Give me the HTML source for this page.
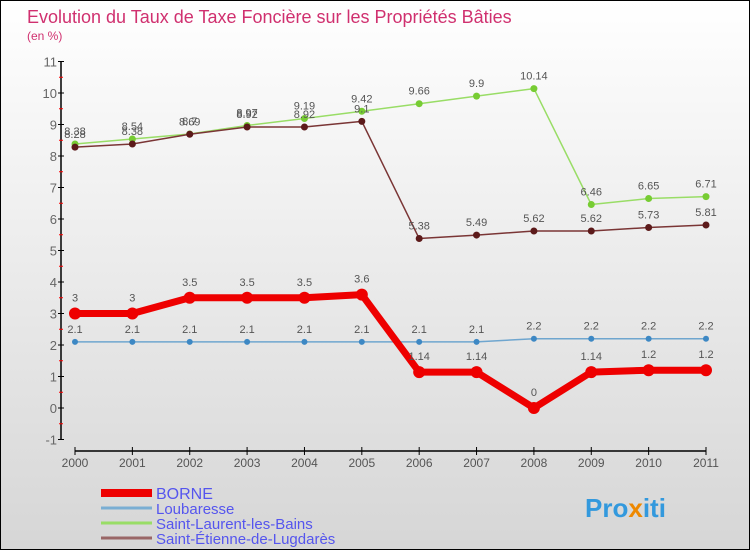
<!DOCTYPE html>
<html><head><meta charset="utf-8"><style>
body{margin:0;width:750px;height:550px;overflow:hidden;font-family:"Liberation Sans",sans-serif}
#wrap{position:relative;width:748px;height:548px;border:1px solid #000;background:linear-gradient(#fff,#d6d6d6)}
</style></head><body>
<div id="wrap">
<svg id="chart" width="748" height="548">
<text x="26" y="22" font-size="18" fill="#d0306f">Evolution du Taux de Taxe Foncière sur les Propriétés Bâties</text>
<text x="26" y="39" font-size="12" fill="#d0306f">(en %)</text>
<g id="axes"></g><g id="series"></g><g id="legend"></g>
<text x="584" y="516" font-size="26" font-weight="bold" fill="#3399dd">Pro<tspan fill="#ee8800">x</tspan>iti</text>
</svg></div>
<script>
const years=["2000","2001","2002","2003","2004","2005","2006","2007","2008","2009","2010","2011"];
const borne=[3,3,3.5,3.5,3.5,3.6,1.14,1.14,0,1.14,1.2,1.2];
const loubaresse=[2.1,2.1,2.1,2.1,2.1,2.1,2.1,2.1,2.2,2.2,2.2,2.2];
const stLaurent=[8.38,8.54,8.7,8.97,9.19,9.42,9.66,9.9,10.14,6.46,6.65,6.71];
const stEtienne=[8.28,8.38,8.69,8.92,8.92,9.1,5.38,5.49,5.62,5.62,5.73,5.81];
const yTicks=[-1,0,1,2,3,4,5,6,7,8,9,10,11];
const NS="http://www.w3.org/2000/svg";
const X=i=>74+i*(705-74)/11;
const Y=v=>407-v*31.5;
function mk(tag,attrs,parent){const e=document.createElementNS(NS,tag);for(const k in attrs)e.setAttribute(k,attrs[k]);parent.appendChild(e);return e;}
const ax=document.getElementById('axes');
let l=mk('line',{x1:60,y1:Y(11),x2:60,y2:Y(-1),stroke:'#000','stroke-width':1.5},ax);


yTicks.forEach(v=>{
 mk('line',{x1:57,x2:63,y1:Y(v),y2:Y(v),stroke:'#000'},ax);
 if(v<11){mk('line',{x1:58,x2:62,y1:Y(v+0.5),y2:Y(v+0.5),stroke:'#f00'},ax);}
 const t=mk('text',{x:56,y:Y(v)+5,'text-anchor':'end','font-size':13,fill:'#666'},ax);
 t.textContent=v;
 
 
});
l=mk('line',{x1:X(0),y1:450,x2:X(11),y2:450,stroke:'#000','stroke-width':1.5},ax);


years.forEach((y,i)=>{
 mk('line',{x1:X(i),x2:X(i),y1:446,y2:454,stroke:'#000'},ax);
 const t=mk('text',{x:X(i),y:466,'text-anchor':'middle','font-size':12,fill:'#555'},ax);
 t.textContent=y;
 
 
});
const sg=document.getElementById('series');
function series(arr,color,w,r,dot,name,off){
 const g=mk('g',{},sg);
 
 
 mk('polyline',{points:arr.map((v,i)=>X(i)+','+Y(v)).join(' '),fill:'none',stroke:color,'stroke-width':w,'stroke-linejoin':'round'},g);
 arr.forEach((v,i)=>{
  const c=mk('circle',{cx:X(i),cy:Y(v),r:r,fill:dot},g);
  
  
  const t=mk('text',{x:X(i),y:Y(v)-off,'text-anchor':'middle','font-size':11,fill:'#555'},g);
  t.textContent=v;
  
  
 });
}
series(loubaresse,'#6fa6cf',1.5,3,'#3d88c4','loubaresse-series',9);
series(stLaurent,'#99dd66',1.5,3.5,'#77cc33','saint-laurent-series',9);
series(stEtienne,'#7a3535',1.5,3.5,'#5c1a1a','saint-etienne-series',9);
series(borne,'#ee0000',7,6,'#ee0000','borne-series',12);
const lg=document.getElementById('legend');
const items=[["BORNE","#ee0000",8],["Loubaresse","#7aaed3",3],["Saint-Laurent-les-Bains","#99dd66",3],["Saint-Étienne-de-Lugdarès","#996666",3]];
items.forEach((it,i)=>{
 const yy=492+i*15;
 const g=mk('g',{},lg);
 
 
 mk('line',{x1:100,x2:151,y1:yy,y2:yy,stroke:it[1],'stroke-width':it[2]},g);
 const t=mk('text',{x:155,y:yy+6,'font-size':i==0?16:15,fill:'#5555ee'},g);
 t.textContent=it[0];
});
</script>
</body></html>
